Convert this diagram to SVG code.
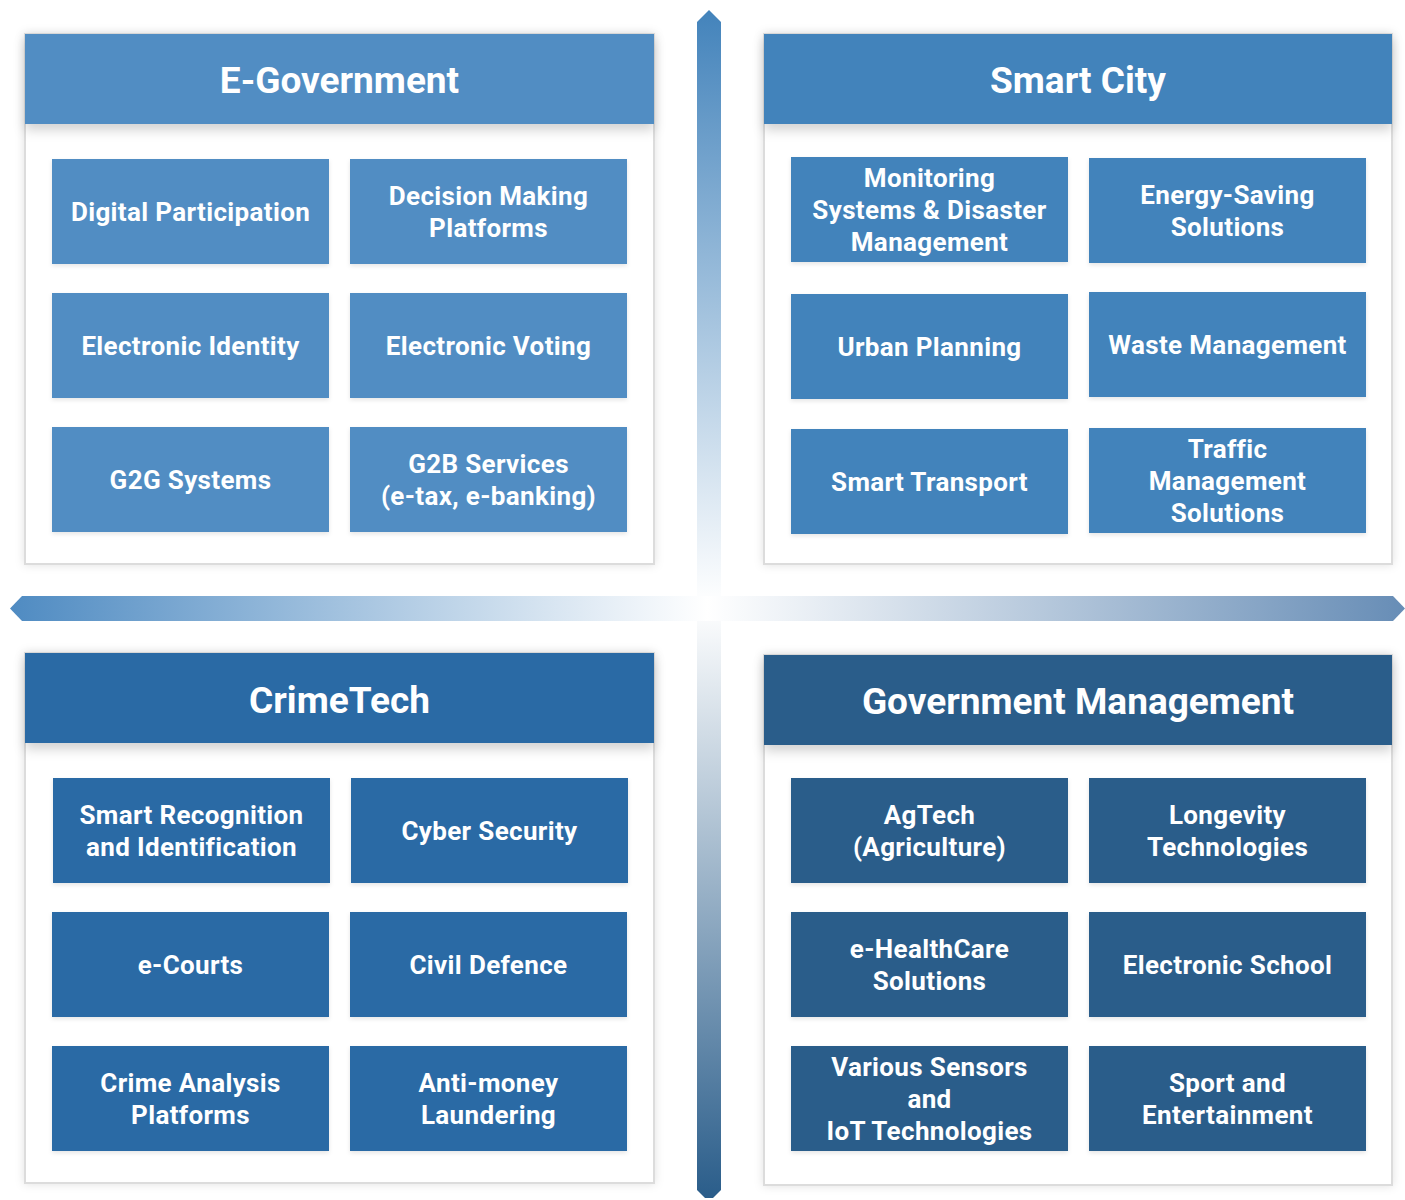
<svg xmlns="http://www.w3.org/2000/svg" width="1405" height="1200" viewBox="0 0 1405 1200">
  <defs>
    <linearGradient id="vAxis" x1="0" y1="10" x2="0" y2="1198" gradientUnits="userSpaceOnUse">
      <stop offset="0" stop-color="#4383bb"/>
      <stop offset="0.5" stop-color="#ffffff"/>
      <stop offset="1" stop-color="#2a5d8a"/>
    </linearGradient>
    <linearGradient id="hAxis" x1="10" y1="0" x2="1405" y2="0" gradientUnits="userSpaceOnUse">
      <stop offset="0" stop-color="#4f8bc2"/>
      <stop offset="0.5" stop-color="#ffffff"/>
      <stop offset="1" stop-color="#678db6"/>
    </linearGradient>
    <filter id="panelShadow" x="-5%" y="-5%" width="110%" height="110%">
      <feDropShadow dx="0" dy="0" stdDeviation="5" flood-color="#000" flood-opacity="0.12"/>
    </filter>
    <filter id="headShadow" x="-5%" y="-20%" width="110%" height="160%">
      <feDropShadow dx="0" dy="6" stdDeviation="6" flood-color="#000" flood-opacity="0.18"/>
    </filter>
    <filter id="tileShadow" x="-5%" y="-10%" width="110%" height="125%">
      <feDropShadow dx="0" dy="2" stdDeviation="2" flood-color="#000" flood-opacity="0.10"/>
    </filter>
  </defs>
  <style>
    .panel { fill: #ffffff; stroke: #dcdcdc; stroke-width: 2; }
    .title { font-family: Roboto, "Liberation Sans", sans-serif; font-weight: 700; font-size: 37px; fill: #ffffff; text-anchor: middle; }
    .label { font-family: Roboto, "Liberation Sans", sans-serif; font-weight: 700; font-size: 26px; letter-spacing: 0.35px; fill: #ffffff; text-anchor: middle; }
    .egov { fill: #518dc3; }
    .city { fill: #4383bb; }
    .crime { fill: #2a6ba5; }
    .gov { fill: #2a5d8a; }
  </style>

  <!-- axes -->
  <g id="connectors">
    <path d="M697 22 L709 10 L721 22 L721 1190 L713 1198 L705 1198 L697 1190 Z" fill="url(#vAxis)"/>
    <path d="M22 596 L1393 596 L1405 608.5 L1393 621 L22 621 L10 608.5 Z" fill="url(#hAxis)"/>
  </g>

  <!-- E-Government -->
  <g id="e-government">
    <rect class="panel" x="25" y="34" width="629" height="530" filter="url(#panelShadow)"/>
    <rect class="egov" x="25" y="34" width="629" height="90" filter="url(#headShadow)"/>
    <text class="title" x="339.5" y="93">E-Government</text>
    <g filter="url(#tileShadow)">
      <rect class="egov" x="52" y="159" width="277" height="105"/>
      <rect class="egov" x="350" y="159" width="277" height="105"/>
      <rect class="egov" x="52" y="293" width="277" height="105"/>
      <rect class="egov" x="350" y="293" width="277" height="105"/>
      <rect class="egov" x="52" y="427" width="277" height="105"/>
      <rect class="egov" x="350" y="427" width="277" height="105"/>
    </g>
    <text class="label" x="190.5" y="221">Digital Participation</text>
    <text class="label" x="488.5" y="205">Decision Making</text>
    <text class="label" x="488.5" y="237">Platforms</text>
    <text class="label" x="190.5" y="355">Electronic Identity</text>
    <text class="label" x="488.5" y="355">Electronic Voting</text>
    <text class="label" x="190.5" y="489">G2G Systems</text>
    <text class="label" x="488.5" y="473">G2B Services</text>
    <text class="label" x="488.5" y="505">(e-tax, e-banking)</text>
  </g>

  <!-- Smart City -->
  <g id="smart-city">
    <rect class="panel" x="764" y="34" width="628" height="530" filter="url(#panelShadow)"/>
    <rect class="city" x="764" y="34" width="628" height="90" filter="url(#headShadow)"/>
    <text class="title" x="1078" y="93">Smart City</text>
    <g filter="url(#tileShadow)">
      <rect class="city" x="791" y="157" width="277" height="105"/>
      <rect class="city" x="1089" y="158" width="277" height="105"/>
      <rect class="city" x="791" y="294" width="277" height="105"/>
      <rect class="city" x="1089" y="292" width="277" height="105"/>
      <rect class="city" x="791" y="429" width="277" height="105"/>
      <rect class="city" x="1089" y="428" width="277" height="105"/>
    </g>
    <text class="label" x="929.5" y="187">Monitoring</text>
    <text class="label" x="929.5" y="219">Systems &amp; Disaster</text>
    <text class="label" x="929.5" y="251">Management</text>
    <text class="label" x="1227.5" y="204">Energy-Saving</text>
    <text class="label" x="1227.5" y="236">Solutions</text>
    <text class="label" x="929.5" y="356">Urban Planning</text>
    <text class="label" x="1227.5" y="354">Waste Management</text>
    <text class="label" x="929.5" y="491">Smart Transport</text>
    <text class="label" x="1227.5" y="458">Traffic</text>
    <text class="label" x="1227.5" y="490">Management</text>
    <text class="label" x="1227.5" y="522">Solutions</text>
  </g>

  <!-- CrimeTech -->
  <g id="crimetech">
    <rect class="panel" x="25" y="653" width="629" height="530" filter="url(#panelShadow)"/>
    <rect class="crime" x="25" y="653" width="629" height="90" filter="url(#headShadow)"/>
    <text class="title" x="339.5" y="713">CrimeTech</text>
    <g filter="url(#tileShadow)">
      <rect class="crime" x="53" y="778" width="277" height="105"/>
      <rect class="crime" x="351" y="778" width="277" height="105"/>
      <rect class="crime" x="52" y="912" width="277" height="105"/>
      <rect class="crime" x="350" y="912" width="277" height="105"/>
      <rect class="crime" x="52" y="1046" width="277" height="105"/>
      <rect class="crime" x="350" y="1046" width="277" height="105"/>
    </g>
    <text class="label" x="191.5" y="824">Smart Recognition</text>
    <text class="label" x="191.5" y="856">and Identification</text>
    <text class="label" x="489.5" y="840">Cyber Security</text>
    <text class="label" x="190.5" y="974">e-Courts</text>
    <text class="label" x="488.5" y="974">Civil Defence</text>
    <text class="label" x="190.5" y="1092">Crime Analysis</text>
    <text class="label" x="190.5" y="1124">Platforms</text>
    <text class="label" x="488.5" y="1092">Anti-money</text>
    <text class="label" x="488.5" y="1124">Laundering</text>
  </g>

  <!-- Government Management -->
  <g id="government-management">
    <rect class="panel" x="764" y="655" width="628" height="530" filter="url(#panelShadow)"/>
    <rect class="gov" x="764" y="655" width="628" height="90" filter="url(#headShadow)"/>
    <text class="title" x="1078" y="714">Government Management</text>
    <g filter="url(#tileShadow)">
      <rect class="gov" x="791" y="778" width="277" height="105"/>
      <rect class="gov" x="1089" y="778" width="277" height="105"/>
      <rect class="gov" x="791" y="912" width="277" height="105"/>
      <rect class="gov" x="1089" y="912" width="277" height="105"/>
      <rect class="gov" x="791" y="1046" width="277" height="105"/>
      <rect class="gov" x="1089" y="1046" width="277" height="105"/>
    </g>
    <text class="label" x="929.5" y="824">AgTech</text>
    <text class="label" x="929.5" y="856">(Agriculture)</text>
    <text class="label" x="1227.5" y="824">Longevity</text>
    <text class="label" x="1227.5" y="856">Technologies</text>
    <text class="label" x="929.5" y="958">e-HealthCare</text>
    <text class="label" x="929.5" y="990">Solutions</text>
    <text class="label" x="1227.5" y="974">Electronic School</text>
    <text class="label" x="929.5" y="1076">Various Sensors</text>
    <text class="label" x="929.5" y="1108">and</text>
    <text class="label" x="929.5" y="1140">IoT Technologies</text>
    <text class="label" x="1227.5" y="1092">Sport and</text>
    <text class="label" x="1227.5" y="1124">Entertainment</text>
  </g>
</svg>
